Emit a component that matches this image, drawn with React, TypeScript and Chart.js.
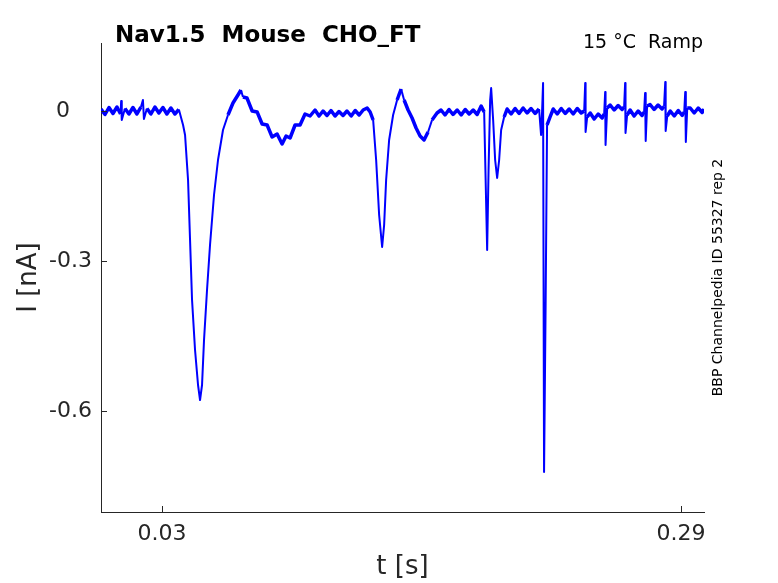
import React, { useEffect, useRef } from 'react';
import Chart from 'chart.js/auto';

// Ramp protocol current trace
const timeS = [
  -0.0005, 0.0015, 0.0035, 0.0055, 0.0075, 0.0093, 0.0096, 0.0099, 0.0115, 0.0135,
  0.0155, 0.0175, 0.0195, 0.0205, 0.021, 0.0225, 0.0245, 0.0265, 0.0285, 0.0305,
  0.0325, 0.0345, 0.0365, 0.0385, 0.0406, 0.0416, 0.0431, 0.0441, 0.0451, 0.0466,
  0.0481, 0.0491, 0.0501, 0.0511, 0.0526, 0.0541, 0.0561, 0.0581, 0.0606, 0.0631,
  0.0656, 0.0681, 0.0696, 0.0706, 0.0726, 0.0752, 0.0777, 0.0802, 0.0827, 0.0852,
  0.0877, 0.0902, 0.0922, 0.0942, 0.0967, 0.0992, 0.1017, 0.1042, 0.1067, 0.1087,
  0.1107, 0.1127, 0.1147, 0.1167, 0.1187, 0.1207, 0.1227, 0.1248, 0.1268, 0.1288,
  0.1308, 0.1328, 0.1343, 0.1358, 0.1373, 0.1388, 0.1403, 0.1413, 0.1423, 0.1438,
  0.1458, 0.1478, 0.1498, 0.1513, 0.1533, 0.1553, 0.1573, 0.1593, 0.1613, 0.1633,
  0.1653, 0.1678, 0.1698, 0.1718, 0.1738, 0.1758, 0.1779, 0.1799, 0.1819, 0.1839,
  0.1859, 0.1879, 0.1899, 0.1914, 0.1929, 0.1936, 0.1944, 0.1949, 0.1959, 0.1969,
  0.1979, 0.1989, 0.1999, 0.2014, 0.2029, 0.2049, 0.2069, 0.2089, 0.2109, 0.2129,
  0.2149, 0.2169, 0.2189, 0.2199, 0.2204, 0.2209, 0.2214, 0.2222, 0.2229, 0.2244,
  0.226, 0.228, 0.23, 0.232, 0.234, 0.236, 0.238, 0.24, 0.2415, 0.242,
  0.2422, 0.243, 0.2445, 0.2465, 0.2485, 0.2505, 0.2515, 0.252, 0.2522, 0.253,
  0.2545, 0.2565, 0.2585, 0.2605, 0.2615, 0.262, 0.2622, 0.263, 0.2645, 0.2665,
  0.2685, 0.2705, 0.2715, 0.272, 0.2723, 0.273, 0.2745, 0.2765, 0.2785, 0.2805,
  0.2815, 0.2821, 0.2823, 0.2831, 0.2846, 0.2866, 0.2886, 0.2906, 0.2916, 0.2921,
  0.2924, 0.2931, 0.2946, 0.2966, 0.2986, 0.3006, 0.3015,
];

const currentNA = [
  0.004, -0.007, 0.007, -0.005, 0.008, -0.006, 0.02, -0.018, 0.005, -0.006,
  0.007, -0.006, 0.008, 0.022, -0.016, 0.005, -0.006, 0.008, -0.004, 0.007,
  -0.006, 0.006, -0.006, 0.003, -0.028, -0.048, -0.138, -0.258, -0.378, -0.478,
  -0.548, -0.578, -0.548, -0.458, -0.358, -0.268, -0.168, -0.098, -0.038, -0.008,
  0.016, 0.032, 0.042, 0.028, 0.026, 0.0, -0.002, -0.026, -0.028, -0.052,
  -0.046, -0.066, -0.05, -0.054, -0.028, -0.028, -0.006, -0.01, 0.002, -0.01,
  0.0, -0.009, 0.001, -0.01, -0.001, -0.009, 0.0, -0.01, 0.001, -0.008,
  0.002, 0.006, -0.002, -0.018, -0.098, -0.208, -0.272, -0.228, -0.138, -0.058,
  -0.008, 0.022, 0.044, 0.022, 0.002, -0.014, -0.034, -0.05, -0.058, -0.042,
  -0.018, -0.004, 0.002, -0.008, 0.003, -0.007, 0.002, -0.008, 0.003, -0.006,
  0.002, -0.007, 0.01, -0.002, -0.278, -0.118, 0.022, 0.046, -0.018, -0.098,
  -0.134, -0.098, -0.038, -0.012, 0.004, -0.006, 0.005, -0.005, 0.006, -0.004,
  0.005, -0.005, 0.004, -0.048, -0.002, 0.056, -0.722, -0.378, -0.028, -0.012,
  0.004, -0.006, 0.005, -0.005, 0.004, -0.006, 0.005, -0.004, 0.0, 0.056,
  -0.042, -0.012, -0.004, -0.016, -0.006, -0.014, -0.006, 0.038, -0.068, 0.006,
  0.012, 0.002, 0.011, 0.003, 0.008, 0.056, -0.044, -0.008, 0.002, -0.01,
  0.0, -0.009, -0.002, 0.036, -0.06, 0.01, 0.013, 0.003, 0.012, 0.004,
  0.009, 0.058, -0.04, -0.01, 0.0, -0.01, 0.001, -0.009, -0.002, 0.038,
  -0.062, 0.006, 0.006, -0.004, 0.006, -0.003, 0.004,
];

const xTicks = [0.03, 0.29];
const yTicks = [0, -0.3, -0.6];
const xRange = [-0.0005, 0.3015];
const yRange = [-0.802, 0.136];

const titleText = 'Nav1.5  Mouse  CHO_FT';
const conditionText = '15 °C  Ramp';
const sourceText = 'BBP Channelpedia ID 55327 rep 2';

const AXIS = '#262626';
const TRACE = '#0000ff';
const FONT = '"DejaVu Sans", sans-serif';

// inside tick marks plus the text around the axes
const annotations = {
  id: 'annotations',
  afterDraw(chart: any) {
    const { ctx, chartArea, scales } = chart;
    ctx.save();
    ctx.strokeStyle = AXIS;
    ctx.lineWidth = 1;
    xTicks.forEach((v) => {
      const px = Math.round(scales.x.getPixelForValue(v)) + 0.5;
      ctx.beginPath();
      ctx.moveTo(px, chartArea.bottom);
      ctx.lineTo(px, chartArea.bottom - 6);
      ctx.stroke();
    });
    yTicks.forEach((v) => {
      const py = Math.round(scales.y.getPixelForValue(v)) + 0.5;
      ctx.beginPath();
      ctx.moveTo(chartArea.left, py);
      ctx.lineTo(chartArea.left + 6, py);
      ctx.stroke();
    });

    ctx.fillStyle = '#000';
    ctx.textBaseline = 'alphabetic';
    ctx.font = `bold 23px ${FONT}`;
    ctx.textAlign = 'left';
    ctx.fillText(titleText, chartArea.left + 14, chartArea.top - 1);

    ctx.font = `19px ${FONT}`;
    ctx.textAlign = 'right';
    ctx.fillText(conditionText, chartArea.right - 1, chartArea.top + 5);

    ctx.font = `14px ${FONT}`;
    ctx.textAlign = 'center';
    ctx.translate(chartArea.right + 18, (chartArea.top + chartArea.bottom) / 2);
    ctx.rotate(-Math.PI / 2);
    ctx.fillText(sourceText, 0, 0);
    ctx.restore();
  },
};

const App: React.FC = () => {
  const canvasRef = useRef<HTMLCanvasElement>(null);
  const chartRef = useRef<Chart | null>(null);

  useEffect(() => {
    document.body.style.margin = '0';
    if (!canvasRef.current) return;
    if (chartRef.current) chartRef.current.destroy();

    const points = timeS.map((t, i) => ({ x: t, y: currentNA[i] }));

    chartRef.current = new Chart(canvasRef.current, {
      type: 'line',
      data: {
        datasets: [
          {
            data: points,
            borderColor: TRACE,
            borderWidth: 2,
            pointRadius: 0,
            tension: 0,
            fill: false,
            borderJoinStyle: 'round',
            // the noisy flat stretches read as a thicker band
            segment: {
              borderWidth: (ctx: any) => {
                const dx = Math.abs(ctx.p1.x - ctx.p0.x);
                const dy = Math.abs(ctx.p1.y - ctx.p0.y);
                return dy < dx * 3 ? 3.5 : 2;
              },
            },
          },
        ],
      },
      options: {
        responsive: false,
        animation: false,
        layout: { padding: { top: 43, right: 74, left: 0, bottom: 0 } },
        plugins: {
          legend: { display: false },
          tooltip: { enabled: false },
        },
        scales: {
          x: {
            type: 'linear',
            min: xRange[0],
            max: xRange[1],
            afterFit: (scale: any) => {
              scale.height = 71;
            },
            afterBuildTicks: (scale: any) => {
              scale.ticks = xTicks.map((value) => ({ value }));
            },
            grid: { display: false, drawTicks: false },
            border: { display: true, color: AXIS, width: 1 },
            ticks: {
              padding: 9,
              color: AXIS,
              font: { family: FONT, size: 22 },
              maxRotation: 0,
              callback: (v: any) => Number(v).toFixed(2),
            },
            title: {
              display: true,
              text: 't [s]',
              color: AXIS,
              font: { family: FONT, size: 26 },
              padding: { top: 0, bottom: 0 },
            },
          },
          y: {
            type: 'linear',
            min: yRange[0],
            max: yRange[1],
            afterFit: (scale: any) => {
              scale.width = 101;
            },
            afterBuildTicks: (scale: any) => {
              scale.ticks = yTicks.map((value) => ({ value }));
            },
            grid: { display: false, drawTicks: false },
            border: { display: true, color: AXIS, width: 1 },
            ticks: {
              padding: 9,
              color: AXIS,
              font: { family: FONT, size: 22 },
              callback: (v: any) => (Number(v) === 0 ? '0\u2002\u2002' : Number(v).toFixed(1)),
            },
            title: {
              display: true,
              text: 'I [nA]',
              color: AXIS,
              font: { family: FONT, size: 26 },
              padding: { top: 14, bottom: 0 },
            },
          },
        },
      },
      plugins: [annotations],
    });

    return () => {
      if (chartRef.current) {
        chartRef.current.destroy();
        chartRef.current = null;
      }
    };
  }, []);

  return (
    <div style={{ width: 778, height: 583, background: '#fff' }}>
      <canvas ref={canvasRef} width={778} height={583} />
    </div>
  );
};

export default App;
